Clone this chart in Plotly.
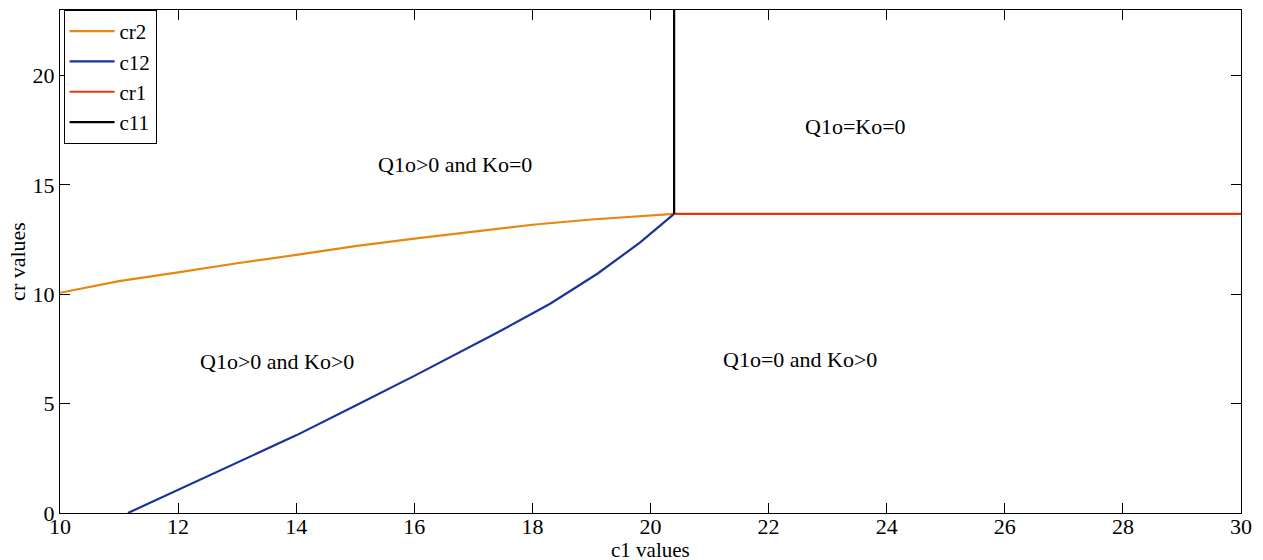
import plotly.graph_objects as go

# cr2 curve
cr2_x = [10, 11, 12, 13, 14, 15, 16, 17, 18, 19, 20, 20.4]
cr2_y = [10.07, 10.6, 11.0, 11.42, 11.8, 12.2, 12.55, 12.88, 13.18, 13.42, 13.6, 13.68]
# c12 curve
c12_x = [11.15, 12, 13, 14, 15, 16, 17.4, 18.3, 19.1, 19.82, 20.4]
c12_y = [0, 1.05, 2.3, 3.55, 4.9, 6.27, 8.24, 9.57, 10.94, 12.36, 13.68]
# cr1 line
cr1_x = [20.4, 30]
cr1_y = [13.68, 13.68]
# c11 line
c11_x = [20.4, 20.4]
c11_y = [13.68, 23]

ann_text = ["Q1o>0 and Ko=0", "Q1o=Ko=0", "Q1o>0 and Ko>0", "Q1o=0 and Ko>0"]
ann_x = [16.69, 23.47, 13.67, 22.53]
ann_y = [15.93, 17.67, 6.91, 7.0]

FONT = "Liberation Serif"

fig = go.Figure()
fig.add_trace(go.Scatter(x=cr2_x, y=cr2_y, mode="lines", name="cr2",
                         line=dict(color="#E8870F", width=2.2)))
fig.add_trace(go.Scatter(x=c12_x, y=c12_y, mode="lines", name="c12",
                         line=dict(color="#1A339A", width=2.2)))
fig.add_trace(go.Scatter(x=cr1_x, y=cr1_y, mode="lines", name="cr1",
                         line=dict(color="#E2380E", width=2.2)))
fig.add_trace(go.Scatter(x=c11_x, y=c11_y, mode="lines", name="c11",
                         line=dict(color="#000000", width=2.2)))

for t, x, y in zip(ann_text, ann_x, ann_y):
    fig.add_annotation(x=x, y=y, text=t, showarrow=False,
                       font=dict(family=FONT, size=22, color="black"))

# x-axis title placed as paper-anchored text just below the tick labels
fig.add_annotation(x=0.5, xref="paper", y=0, yref="paper", yanchor="top",
                   yshift=-24, text="c1 values", showarrow=False, borderpad=0,
                   font=dict(family=FONT, size=21, color="black"))

axis_common = dict(showline=True, linecolor="black", linewidth=1, mirror="ticks",
                   ticks="inside", ticklen=10, tickcolor="black", showgrid=False,
                   zeroline=False, automargin=False,
                   tickfont=dict(family=FONT, size=22, color="black"))

fig.update_layout(
    width=1263, height=560,
    margin=dict(l=60, r=22, t=10, b=47),
    plot_bgcolor="white", paper_bgcolor="white",
    font=dict(family=FONT, color="black"),
    xaxis=dict(range=[10, 30], tickvals=list(range(10, 31, 2)), ticklabelstandoff=-6,
               **axis_common),
    yaxis=dict(range=[0, 23], tickvals=[0, 5, 10, 15, 20], ticklabelstandoff=0,
               title=dict(text="cr values", font=dict(family=FONT, size=22), standoff=0),
               **axis_common),
    legend=dict(x=0.003, y=1, xanchor="left", yanchor="top",
                bordercolor="black", borderwidth=1, bgcolor="white",
                font=dict(family=FONT, size=21), tracegroupgap=0, itemwidth=45),
    showlegend=True,
)

fig.write_html("out.html")
